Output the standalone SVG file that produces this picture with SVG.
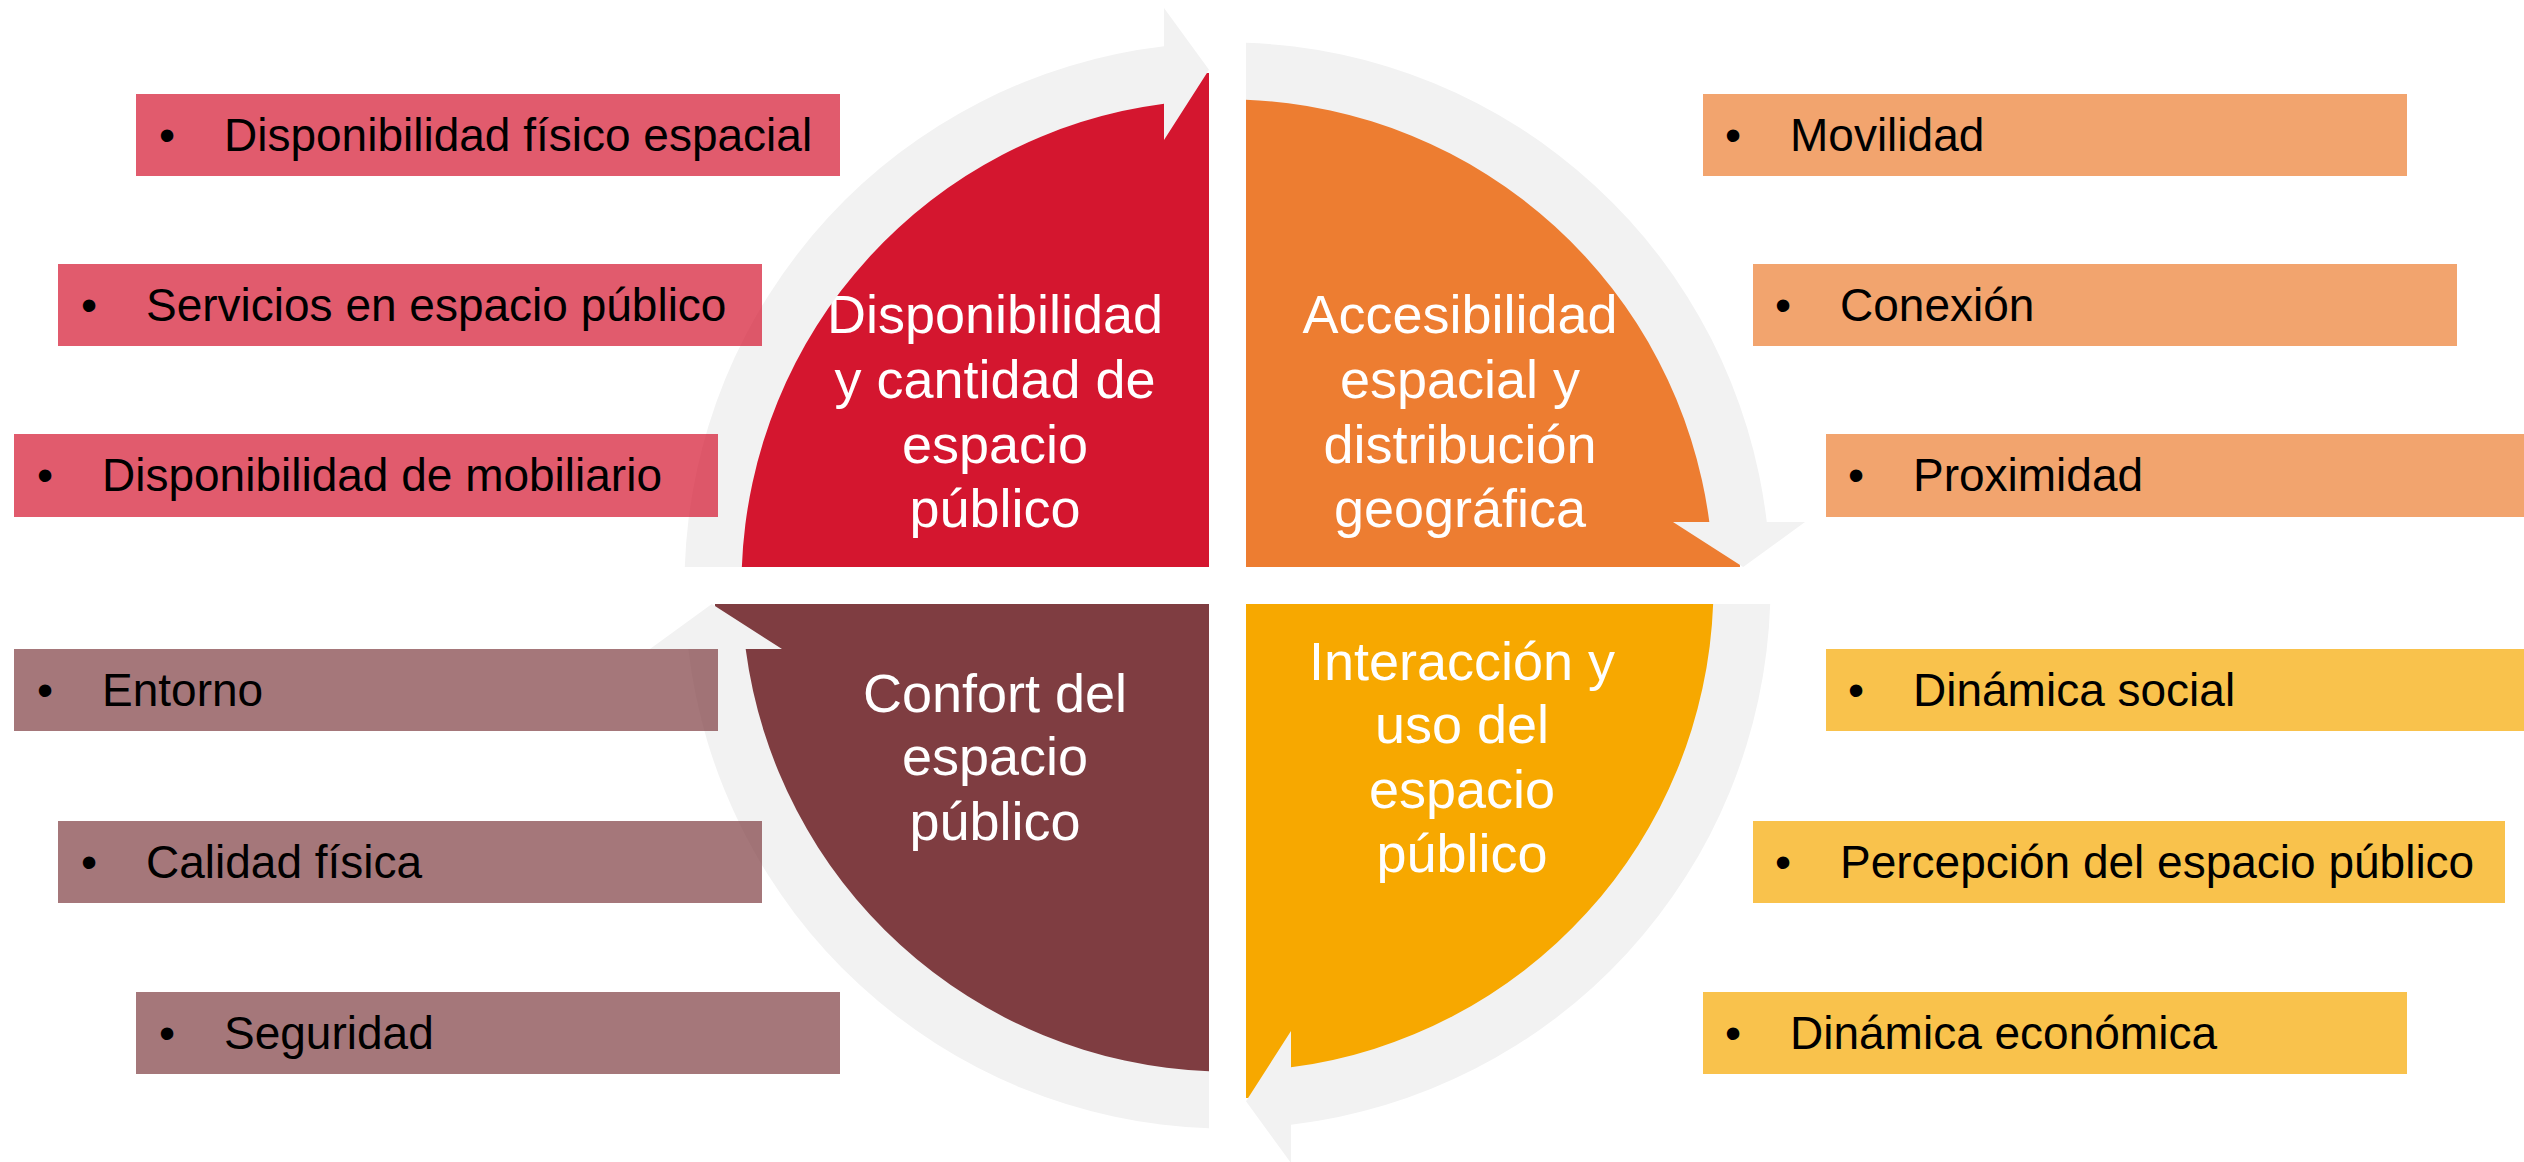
<svg xmlns="http://www.w3.org/2000/svg" width="2524" height="1162" viewBox="0 0 2524 1162">
  <style>
    .qt { font-family: "Liberation Sans", Arial, sans-serif; font-size: 54px; fill: #FFFFFF; text-anchor: middle; }
    .bt { font-family: "Liberation Sans", Arial, sans-serif; font-size: 46px; fill: #000000; }
    .arrow { fill: #F2F2F2; }
    .b-red { fill: #D4162F; fill-opacity: 0.7; }
    .b-org { fill: #ED7D31; fill-opacity: 0.7; }
    .b-yel { fill: #F7A800; fill-opacity: 0.7; }
    .b-mar { fill: #7F3D41; fill-opacity: 0.7; }
  </style>
  <rect x="0" y="0" width="2524" height="1162" fill="#FFFFFF"/>

  <!-- Quadrant nodes -->
  <g id="q-disponibilidad">
    <path d="M1209,567 L715,567 A494,494 0 0 1 1209,73 Z" fill="#D4162F"/>
    <text class="qt" x="995" y="333">Disponibilidad</text>
    <text class="qt" x="995" y="398">y cantidad de</text>
    <text class="qt" x="995" y="463">espacio</text>
    <text class="qt" x="995" y="527">público</text>
  </g>
  <g id="q-accesibilidad">
    <path d="M1246,567 L1246,73 A494,494 0 0 1 1740,567 Z" fill="#ED7D31"/>
    <text class="qt" x="1460" y="333">Accesibilidad</text>
    <text class="qt" x="1460" y="398">espacial y</text>
    <text class="qt" x="1460" y="463">distribución</text>
    <text class="qt" x="1460" y="527">geográfica</text>
  </g>
  <g id="q-interaccion">
    <path d="M1246,604 L1740,604 A494,494 0 0 1 1246,1098 Z" fill="#F7A800"/>
    <text class="qt" x="1462" y="680">Interacción y</text>
    <text class="qt" x="1462" y="743">uso del</text>
    <text class="qt" x="1462" y="808">espacio</text>
    <text class="qt" x="1462" y="872">público</text>
  </g>
  <g id="q-confort">
    <path d="M1209,604 L1209,1098 A494,494 0 0 1 715,604 Z" fill="#7F3D41"/>
    <text class="qt" x="995" y="712">Confort del</text>
    <text class="qt" x="995" y="775">espacio</text>
    <text class="qt" x="995" y="840">público</text>
  </g>

  <!-- Circular arrows (connectors) -->
  <g id="connectors">
    <path class="arrow" d="M741.85,567 L684.8,567 A543,543 0 0 1 1164,46.23 L1164,7.98 L1209,69.8 L1164,140 L1164,103.67 A486,486 0 0 0 741.85,567 Z"/>
    <path class="arrow" d="M1246,99.85 L1246,42.8 A543,543 0 0 1 1766.77,522 L1805.02,522 L1743.17,567 L1673,522 L1709.33,522 A486,486 0 0 0 1246,99.85 Z"/>
    <path class="arrow" d="M1713.15,604 L1770.2,604 A543,543 0 0 1 1291,1124.77 L1291,1163.02 L1246,1101.17 L1291,1031 L1291,1067.33 A486,486 0 0 0 1713.15,604 Z"/>
    <path class="arrow" d="M1209,1071.15 L1209,1128.2 A543,543 0 0 1 688.23,649 L649.98,649 L711.83,604 L782,649 L745.67,649 A486,486 0 0 0 1209,1071.15 Z"/>
  </g>

  <!-- Left top boxes -->
  <g id="box-disp-fisico">
    <rect class="b-red" x="136" y="94" width="704" height="82"/>
    <text class="bt" x="167" y="151" text-anchor="middle">•</text>
    <text class="bt" x="224" y="151">Disponibilidad físico espacial</text>
  </g>
  <g id="box-servicios">
    <rect class="b-red" x="58" y="264" width="704" height="82"/>
    <text class="bt" x="89" y="321" text-anchor="middle">•</text>
    <text class="bt" x="146" y="321">Servicios en espacio público</text>
  </g>
  <g id="box-mobiliario">
    <rect class="b-red" x="14" y="434" width="704" height="83"/>
    <text class="bt" x="45" y="491" text-anchor="middle">•</text>
    <text class="bt" x="102" y="491">Disponibilidad de mobiliario</text>
  </g>

  <!-- Left bottom boxes -->
  <g id="box-entorno">
    <rect class="b-mar" x="14" y="649" width="704" height="82"/>
    <text class="bt" x="45" y="706" text-anchor="middle">•</text>
    <text class="bt" x="102" y="706">Entorno</text>
  </g>
  <g id="box-calidad">
    <rect class="b-mar" x="58" y="821" width="704" height="82"/>
    <text class="bt" x="89" y="878" text-anchor="middle">•</text>
    <text class="bt" x="146" y="878">Calidad física</text>
  </g>
  <g id="box-seguridad">
    <rect class="b-mar" x="136" y="992" width="704" height="82"/>
    <text class="bt" x="167" y="1049" text-anchor="middle">•</text>
    <text class="bt" x="224" y="1049">Seguridad</text>
  </g>

  <!-- Right top boxes -->
  <g id="box-movilidad">
    <rect class="b-org" x="1703" y="94" width="704" height="82"/>
    <text class="bt" x="1733" y="151" text-anchor="middle">•</text>
    <text class="bt" x="1790" y="151">Movilidad</text>
  </g>
  <g id="box-conexion">
    <rect class="b-org" x="1753" y="264" width="704" height="82"/>
    <text class="bt" x="1783" y="321" text-anchor="middle">•</text>
    <text class="bt" x="1840" y="321">Conexión</text>
  </g>
  <g id="box-proximidad">
    <rect class="b-org" x="1826" y="434" width="704" height="83"/>
    <text class="bt" x="1856" y="491" text-anchor="middle">•</text>
    <text class="bt" x="1913" y="491">Proximidad</text>
  </g>

  <!-- Right bottom boxes -->
  <g id="box-dinamica-social">
    <rect class="b-yel" x="1826" y="649" width="704" height="82"/>
    <text class="bt" x="1856" y="706" text-anchor="middle">•</text>
    <text class="bt" x="1913" y="706">Dinámica social</text>
  </g>
  <g id="box-percepcion">
    <rect class="b-yel" x="1753" y="821" width="752" height="82"/>
    <text class="bt" x="1783" y="878" text-anchor="middle">•</text>
    <text class="bt" x="1840" y="878">Percepción del espacio público</text>
  </g>
  <g id="box-dinamica-economica">
    <rect class="b-yel" x="1703" y="992" width="704" height="82"/>
    <text class="bt" x="1733" y="1049" text-anchor="middle">•</text>
    <text class="bt" x="1790" y="1049">Dinámica económica</text>
  </g>
</svg>
